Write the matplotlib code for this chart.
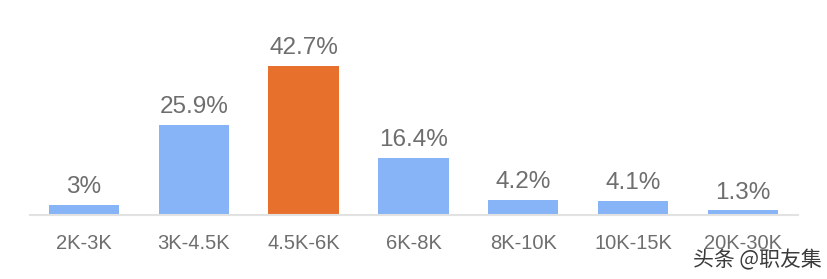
import matplotlib
matplotlib.use("Agg")
import matplotlib.pyplot as plt

categories = ["2K-3K", "3K-4.5K", "4.5K-6K", "6K-8K", "8K-10K", "10K-15K", "20K-30K"]
values = [3, 25.9, 42.7, 16.4, 4.2, 4.1, 1.3]
value_labels = ["3%", "25.9%", "42.7%", "16.4%", "4.2%", "4.1%", "1.3%"]
highlight = "4.5K-6K"

blue = "#86b4f6"
orange = "#e8702d"
text_gray = "#6e6e6e"

fig = plt.figure(figsize=(8.28, 2.79), dpi=100)
ax = fig.add_axes([30/828, (279-215)/279, 768/828, 185/279])

colors = [orange if c == highlight else blue for c in categories]
x = range(len(categories))
bars = ax.bar(x, values, width=0.64, color=colors, zorder=2)

for b, lab in zip(bars, value_labels):
    ax.annotate(lab, (b.get_x() + b.get_width()/2, b.get_height()),
                xytext=(0, 5), textcoords="offset points", ha="center", va="bottom",
                fontsize=17.5, color=text_gray, family=["Liberation Sans", "DejaVu Sans"])

ax.set_xlim(-0.49, 6.5)
ax.set_ylim(0, 53)
ax.set_xticks(list(x))
ax.set_xticklabels(categories, fontsize=14.5, color=text_gray, family=["Liberation Sans", "DejaVu Sans"])
ax.tick_params(axis="x", length=0, pad=14)
ax.set_yticks([])
for s in ["top", "right", "left"]:
    ax.spines[s].set_visible(False)
ax.spines["bottom"].set_color("#e2e2e2")
ax.spines["bottom"].set_linewidth(1.5)

fig.text(0.992, 0.068, "头条 @职友集", ha="right", va="center", fontsize=15,
         color="#3a3a3a", family=["Noto Sans CJK SC", "DejaVu Sans"])

fig.savefig("out.png", dpi=100)
